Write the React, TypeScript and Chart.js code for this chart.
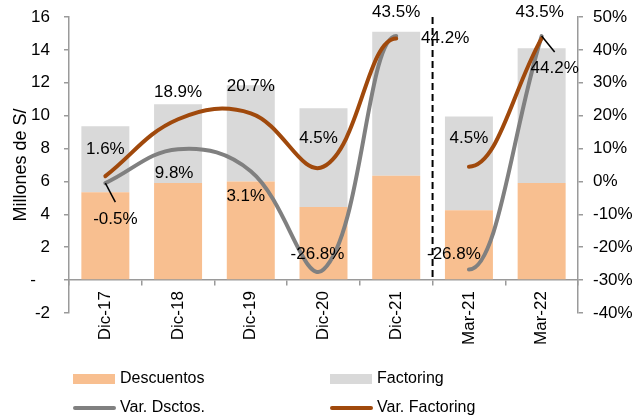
import React, { useEffect, useRef } from 'react';
import { Chart, registerables } from 'chart.js';

Chart.register(...registerables);

// ---- data ----
const categories = ['Dic-17', 'Dic-18', 'Dic-19', 'Dic-20', 'Dic-21', 'Mar-21', 'Mar-22'];
const descuentos = [5.35, 5.9, 6.0, 4.45, 6.35, 4.25, 5.9];
const factoring = [4.0, 4.8, 5.85, 6.0, 8.75, 5.7, 8.2];
const varDsctos = [-0.5, 9.8, 3.1, -26.8, 44.2, -26.8, 44.2];
const varFactoring = [1.6, 18.9, 20.7, 4.5, 43.5, 4.5, 43.5];
const breakAfterIndex = 4; // lines are not joined between Dic-21 and Mar-21
const leftAxis = { min: -2, max: 16, step: 2 };
const rightAxis = { min: -40, max: 50, step: 10 };

// ---- styles ----
const FONT = "'Liberation Sans', Arial, Helvetica, sans-serif";
const PEACH = '#F8BF90';
const LIGHT_GRAY = '#D9D9D9';
const LINE_GRAY = '#808080';
const BROWN = '#A0490C';
const AXIS = '#9a9a9a';

// label placement (pixel offsets from each point)
const factoringLabelOffsets = [[0, -27], [0, -27], [0, -27], [-5, -28], [0, -26], [0, -28], [-2, -26]];
const dsctosLabelOffsets = [[10, 36], [-4, 24], [-5, 25], [-6, -15], [49, 2], [-15, -15], [13, 32]];
const dsctosLeaders: Record<number, [number, number]> = { 0: [10, 19], 6: [13, 16] };

const fmtPct = (v: number) => v.toFixed(1) + '%';

const overlayPlugin = {
  id: 'overlay',
  afterDatasetsDraw(chart: any) {
    const { ctx, scales } = chart;
    const x = scales.x;
    const y = scales.y;
    const y1 = scales.y1;
    ctx.save();
    // dashed separator between Dic-21 and Mar-21
    const sepX = (x.getPixelForValue(breakAfterIndex) + x.getPixelForValue(breakAfterIndex + 1)) / 2;
    ctx.setLineDash([7, 4]);
    ctx.strokeStyle = '#000';
    ctx.lineWidth = 2;
    ctx.beginPath();
    ctx.moveTo(sepX, chart.chartArea.top);
    ctx.lineTo(sepX, y.getPixelForValue(0));
    ctx.stroke();
    ctx.setLineDash([]);

    // leader lines
    ctx.strokeStyle = '#000';
    ctx.lineWidth = 1.5;
    Object.keys(dsctosLeaders).forEach((k) => {
      const i = Number(k);
      const [dx, dy] = dsctosLeaders[i];
      const px = x.getPixelForValue(i);
      const py = y1.getPixelForValue(varDsctos[i]);
      ctx.beginPath();
      ctx.moveTo(px, py);
      ctx.lineTo(px + dx, py + dy);
      ctx.stroke();
    });

    // data labels
    ctx.font = `17px ${FONT}`;
    ctx.fillStyle = '#000';
    ctx.textAlign = 'center';
    ctx.textBaseline = 'middle';
    varFactoring.forEach((v, i) => {
      const px = x.getPixelForValue(i);
      const py = y1.getPixelForValue(v);
      const [dx, dy] = factoringLabelOffsets[i];
      ctx.fillText(fmtPct(v), px + dx, py + dy);
    });
    varDsctos.forEach((v, i) => {
      const px = x.getPixelForValue(i);
      const py = y1.getPixelForValue(v);
      const [dx, dy] = dsctosLabelOffsets[i];
      ctx.fillText(fmtPct(v), px + dx, py + dy);
    });
    ctx.restore();
  },
  afterDraw(chart: any) {
    const { ctx } = chart;
    const ds = chart.data.datasets;
    const items = [
      { label: ds[0].label, color: PEACH, kind: 'box', x: 73, y: 379 },
      { label: ds[1].label, color: LIGHT_GRAY, kind: 'box', x: 330, y: 379 },
      { label: ds[2].label, color: LINE_GRAY, kind: 'line', x: 73, y: 408 },
      { label: ds[3].label, color: BROWN, kind: 'line', x: 330, y: 408 },
    ];
    ctx.save();
    ctx.font = `16px ${FONT}`;
    ctx.textAlign = 'left';
    ctx.textBaseline = 'middle';
    items.forEach((it) => {
      if (it.kind === 'box') {
        ctx.fillStyle = it.color;
        ctx.fillRect(it.x, it.y - 5, 42, 10);
      } else {
        ctx.strokeStyle = it.color;
        ctx.lineWidth = 4;
        ctx.lineCap = 'round';
        ctx.beginPath();
        ctx.moveTo(it.x + 2, it.y);
        ctx.lineTo(it.x + 41, it.y);
        ctx.stroke();
      }
      ctx.fillStyle = '#000';
      ctx.fillText(it.label, it.x + 47, it.y);
    });
    ctx.restore();
  },
};

const gapSegment = (color: string) => ({
  borderColor: (c: any) => (c.p0DataIndex === breakAfterIndex ? 'rgba(0,0,0,0)' : color),
});

export default function App() {
  const ref = useRef<HTMLCanvasElement>(null);
  useEffect(() => {
    if (!ref.current) return;
    Chart.defaults.font.family = FONT;
    const chart = new Chart(ref.current, {
      type: 'bar',
      data: {
        labels: categories,
        datasets: [
          {
            label: 'Descuentos',
            data: descuentos,
            backgroundColor: PEACH,
            borderWidth: 0,
            barPercentage: 0.66,
            categoryPercentage: 1,
            yAxisID: 'y',
            order: 2,
          },
          {
            label: 'Factoring',
            data: factoring,
            backgroundColor: LIGHT_GRAY,
            borderWidth: 0,
            barPercentage: 0.66,
            categoryPercentage: 1,
            yAxisID: 'y',
            order: 2,
          },
          {
            type: 'line',
            label: 'Var. Dsctos.',
            data: varDsctos,
            yAxisID: 'y1',
            borderColor: LINE_GRAY,
            borderWidth: 4,
            borderCapStyle: 'round',
            borderJoinStyle: 'round',
            tension: 0.4,
            pointRadius: 0,
            fill: false,
            order: 1,
            segment: gapSegment(LINE_GRAY),
          } as any,
          {
            type: 'line',
            label: 'Var. Factoring',
            data: varFactoring,
            yAxisID: 'y1',
            borderColor: BROWN,
            borderWidth: 4,
            borderCapStyle: 'round',
            borderJoinStyle: 'round',
            tension: 0.4,
            pointRadius: 0,
            fill: false,
            order: 0,
            segment: gapSegment(BROWN),
          } as any,
        ],
      },
      options: {
        responsive: false,
        animation: false,
        layout: { padding: { top: 17, bottom: 104, left: 0, right: 0 } },
        plugins: { legend: { display: false }, tooltip: { enabled: false } },
        scales: {
          x: {
            position: { y: 0 } as any,
            stacked: true,
            offset: true,
            grid: {
              offset: true,
              drawOnChartArea: false,
              drawTicks: true,
              tickLength: 5,
              color: AXIS,
              lineWidth: 1.5,
            },
            border: { display: true, color: AXIS, width: 1.5 },
            ticks: {
              minRotation: 90,
              maxRotation: 90,
              autoSkip: false,
              padding: 6,
              color: '#000',
              font: { size: 17, family: FONT },
            },
          },
          y: {
            position: 'left',
            stacked: true,
            min: leftAxis.min,
            max: leftAxis.max,
            ticks: {
              stepSize: leftAxis.step,
              padding: 14,
              color: '#000',
              font: { size: 17, family: FONT },
              callback: (v: any) => (Number(v) === 0 ? '-   ' : String(v)),
            },
            grid: { drawOnChartArea: false, tickLength: 5, color: AXIS, lineWidth: 1.5 },
            border: { display: true, color: AXIS, width: 1.5 },
            title: {
              display: true,
              text: 'Millones de S/',
              color: '#000',
              font: { size: 18, family: FONT },
              padding: { top: 10, bottom: 0 },
            },
            afterFit: (s: any) => {
              s.width = 69;
              s.paddingTop = 0;
              s.paddingBottom = 0;
            },
          },
          y1: {
            position: 'right',
            min: rightAxis.min,
            max: rightAxis.max,
            ticks: {
              stepSize: rightAxis.step,
              padding: 10,
              color: '#000',
              font: { size: 17, family: FONT },
              callback: (v: any) => `${v}%`,
            },
            grid: { drawOnChartArea: false, tickLength: 5, color: AXIS, lineWidth: 1.5 },
            border: { display: true, color: AXIS, width: 1.5 },
            afterFit: (s: any) => {
              s.width = 61;
              s.paddingTop = 0;
              s.paddingBottom = 0;
            },
          },
        },
      },
      plugins: [overlayPlugin],
    } as any);
    return () => chart.destroy();
  }, []);

  return (
    <div style={{ position: 'absolute', left: 0, top: 0, width: 639, height: 417, background: '#fff' }}>
      <canvas ref={ref} width={639} height={417} style={{ display: 'block' }} />
    </div>
  );
}
